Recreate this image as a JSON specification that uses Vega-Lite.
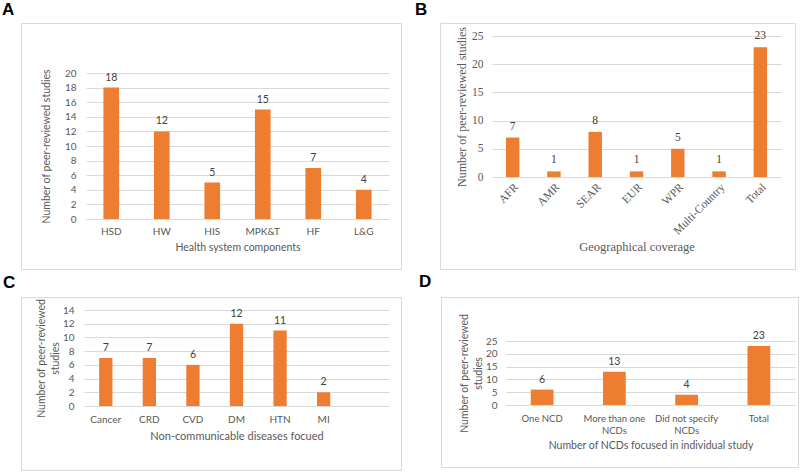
{
  "$schema": "https://vega.github.io/schema/vega-lite/v6.json",
  "autosize": {"type": "pad"},
  "padding": {"left": 1, "top": 0, "right": 0, "bottom": 0},
  "background": "white",
  "datasets": {
    "components": [
      {"category": "HSD", "count": 18},
      {"category": "HW", "count": 12},
      {"category": "HIS", "count": 5},
      {"category": "MPK&T", "count": 15},
      {"category": "HF", "count": 7},
      {"category": "L&G", "count": 4}
    ],
    "regions": [
      {"category": "AFR", "count": 7},
      {"category": "AMR", "count": 1},
      {"category": "SEAR", "count": 8},
      {"category": "EUR", "count": 1},
      {"category": "WPR", "count": 5},
      {"category": "Multi-Country", "count": 1},
      {"category": "Total", "count": 23}
    ],
    "diseases": [
      {"category": "Cancer", "count": 7},
      {"category": "CRD", "count": 7},
      {"category": "CVD", "count": 6},
      {"category": "DM", "count": 12},
      {"category": "HTN", "count": 11},
      {"category": "MI", "count": 2}
    ],
    "ncds": [
      {"category": "One NCD", "count": 6},
      {"category": "More than one NCDs", "count": 13},
      {"category": "Did not specify NCDs", "count": 4},
      {"category": "Total", "count": 23}
    ]
  },
  "config": {
    "view": {"stroke": "#D9D9D9", "strokeWidth": 1},
    "axis": {
      "labelColor": "#595959",
      "titleColor": "#595959",
      "titleFontWeight": "normal",
      "gridColor": "#D9D9D9",
      "domainColor": "#D9D9D9",
      "ticks": false
    },
    "title": {"font": "Liberation Sans", "fontWeight": "bold", "fontSize": 17, "color": "black", "anchor": "start", "frame": "group"}
  },
  "vconcat": [
    {
      "bounds": "flush",
      "spacing": 39,
      "hconcat": [
        {
          "width": 380,
          "height": 246,
          "title": {"text": "A", "dx": -19, "offset": 4},
          "data": {"name": "components"},
          "encoding": {
            "x": {
              "field": "category", "type": "nominal", "sort": null,
              "scale": {"range": [65, 368], "paddingInner": 0.69, "paddingOuter": 0.345},
              "axis": {"orient": "bottom", "offset": -50, "labelAngle": 0, "labelPadding": 7, "labelFont": "Lato", "labelFontSize": 10, "title": "Health system components", "titleFont": "Lato", "titleFontSize": 10.5, "titlePadding": 6, "grid": false, "domain": true}
            },
            "y": {
              "field": "count", "type": "quantitative",
              "scale": {"domain": [0, 20], "range": [196, 50], "nice": false},
              "axis": {"orient": "left", "offset": -65, "values": [0, 2, 4, 6, 8, 10, 12, 14, 16, 18, 20], "domain": false, "labelPadding": 10, "labelFont": "Lato", "labelFontSize": 10, "title": "Number of peer-reviewed studies", "titleFont": "Lato", "titleFontSize": 10.5, "titlePadding": 13, "grid": true}
            }
          },
          "layer": [
            {"mark": {"type": "bar", "color": "#ED7D31"}},
            {"mark": {"type": "text", "baseline": "bottom", "dy": -5, "font": "Lato", "fontSize": 10.5, "color": "#404040"}, "encoding": {"text": {"field": "count", "type": "quantitative"}}}
          ]
        },
        {
          "width": 355,
          "height": 246,
          "title": {"text": "B", "dx": -25, "offset": 4},
          "data": {"name": "regions"},
          "encoding": {
            "x": {
              "field": "category", "type": "nominal", "sort": null,
              "scale": {"range": [52, 341], "paddingInner": 0.675, "paddingOuter": 0.3375},
              "axis": {"orient": "bottom", "offset": -92, "labelAngle": -45, "labelPadding": 4, "labelFont": "Liberation Serif", "labelFontSize": 11.5, "title": "Geographical coverage", "titleFont": "Liberation Serif", "titleFontSize": 12.5, "titlePadding": 4, "grid": false, "domain": true}
            },
            "y": {
              "field": "count", "type": "quantitative",
              "scale": {"domain": [0, 25], "range": [154, 13], "nice": false},
              "axis": {"orient": "left", "offset": -52, "values": [0, 5, 10, 15, 20, 25], "domain": false, "labelPadding": 9, "labelFont": "Liberation Serif", "labelFontSize": 11.5, "title": "Number of peer-reviewed studies", "titleFont": "Liberation Serif", "titleFontSize": 12, "titlePadding": 3, "grid": true}
            }
          },
          "layer": [
            {"mark": {"type": "bar", "color": "#ED7D31"}},
            {"mark": {"type": "text", "baseline": "bottom", "dy": -6, "font": "Liberation Serif", "fontSize": 11.5, "color": "#404040"}, "encoding": {"text": {"field": "count", "type": "quantitative"}}}
          ]
        }
      ]
    },
    {
      "bounds": "flush",
      "spacing": 40,
      "hconcat": [
        {
          "width": 380,
          "height": 173,
          "title": {"text": "C", "dx": -18, "offset": 5},
          "data": {"name": "diseases"},
          "encoding": {
            "x": {
              "field": "category", "type": "nominal", "sort": null,
              "scale": {"domain": ["Cancer", "CRD", "CVD", "DM", "HTN", "MI", " "], "range": [63, 368], "paddingInner": 0.695, "paddingOuter": 0.3475},
              "axis": {"orient": "bottom", "offset": -64, "labelAngle": 0, "labelPadding": 8, "labelFont": "Lato", "labelFontSize": 10, "title": "Non-communicable diseases focued", "titleFont": "Lato", "titleFontSize": 11, "titlePadding": 6, "grid": false, "domain": true}
            },
            "y": {
              "field": "count", "type": "quantitative",
              "scale": {"domain": [0, 14], "range": [109, 13], "nice": false},
              "axis": {"orient": "left", "offset": -63, "values": [0, 2, 4, 6, 8, 10, 12, 14], "domain": false, "labelPadding": 10, "labelFont": "Lato", "labelFontSize": 10, "title": ["Number of peer-reviewed", "studies"], "titleFont": "Lato", "titleFontSize": 10.5, "titleLineHeight": 14, "titlePadding": 2, "grid": true}
            }
          },
          "layer": [
            {"mark": {"type": "bar", "color": "#ED7D31"}},
            {"mark": {"type": "text", "baseline": "bottom", "dy": -5, "font": "Lato", "fontSize": 10.5, "color": "#404040"}, "encoding": {"text": {"field": "count", "type": "quantitative"}}}
          ]
        },
        {
          "width": 357,
          "height": 170,
          "title": {"text": "D", "dx": -22, "offset": 6},
          "data": {"name": "ncds"},
          "encoding": {
            "x": {
              "field": "category", "type": "nominal", "sort": null,
              "scale": {"range": [65, 354], "paddingInner": 0.685, "paddingOuter": 0.3425},
              "axis": {"orient": "bottom", "offset": -62, "labelAngle": 0, "labelPadding": 8, "labelFont": "Lato", "labelFontSize": 9.5, "labelLineHeight": 12, "labelExpr": "datum.label == 'More than one NCDs' ? ['More than one', 'NCDs'] : datum.label == 'Did not specify NCDs' ? ['Did not specify', 'NCDs'] : datum.label", "title": "Number of NCDs focused in individual study", "titleFont": "Lato", "titleFontSize": 10.5, "titlePadding": 6, "grid": false, "domain": true}
            },
            "y": {
              "field": "count", "type": "quantitative",
              "scale": {"domain": [0, 25], "range": [108, 44], "nice": false},
              "axis": {"orient": "left", "offset": -65, "values": [0, 5, 10, 15, 20, 25], "domain": false, "labelPadding": 9, "labelFont": "Lato", "labelFontSize": 10, "title": ["Number of peer-reviewed", "studies"], "titleFont": "Lato", "titleFontSize": 10.5, "titleLineHeight": 14, "titlePadding": 2, "grid": true}
            }
          },
          "layer": [
            {"mark": {"type": "bar", "color": "#ED7D31"}},
            {"mark": {"type": "text", "baseline": "bottom", "dy": -5, "font": "Lato", "fontSize": 10.5, "color": "#404040"}, "encoding": {"text": {"field": "count", "type": "quantitative"}}}
          ]
        }
      ]
    }
  ],
  "spacing": 2
}
